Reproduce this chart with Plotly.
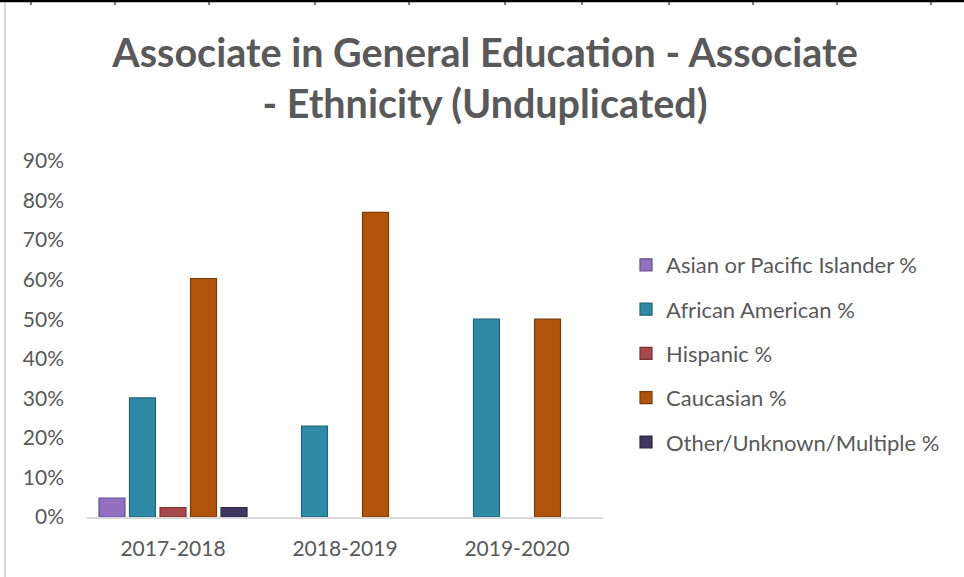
import plotly.graph_objects as go

# Academic years on the category axis
years = ["2017-2018", "2018-2019", "2019-2020"]

# Share of awards by ethnicity (fractions of 1); None = no bar drawn
asian = [0.048, None, None]
african_american = [0.301, 0.230, 0.500]
hispanic = [0.024, None, None]
caucasian = [0.603, 0.770, 0.500]
other = [0.024, None, None]

series_names = [
    "Asian or Pacific Islander %",
    "African American %",
    "Hispanic %",
    "Caucasian %",
    "Other/Unknown/Multiple %",
]
series_values = [asian, african_american, hispanic, caucasian, other]
fill_colors = ["#9371c2", "#2f8aa5", "#a9484a", "#b0540c", "#3f3760"]
edge_colors = ["#6a4f90", "#1f6378", "#7a2f31", "#7b3a07", "#2a2442"]

y_ticks = [i / 10 for i in range(10)]
y_tick_text = [f"{i * 10}%" for i in range(10)]

W, H = 964, 577
M_L, M_R, M_T, M_B = 87, 361, 161, 60
PLOT_W = W - M_L - M_R
PLOT_H = H - M_T - M_B

TEXT = "#595959"
FONT = "Lato, 'Open Sans', sans-serif"

fig = go.Figure()
for name, vals, fc, ec in zip(series_names, series_values, fill_colors, edge_colors):
    fig.add_trace(
        go.Bar(
            x=years,
            y=vals,
            name=name,
            legendgroup=name,
            marker=dict(color=fc, line=dict(color=ec, width=1.2)),
            hoverinfo="skip",
        )
    )


def px_x(px):
    return (px - M_L) / PLOT_W


def px_y(py):
    return (H - M_B - py) / PLOT_H


shapes = []
# heavy rule along the top edge with short cell dividers
shapes.append(dict(type="line", xref="paper", yref="paper",
                   x0=px_x(0), x1=px_x(W), y0=px_y(1), y1=px_y(1),
                   line=dict(color="#000000", width=2.5)))
for tx in [31, 115, 209, 315, 409, 505, 582, 669, 753, 837, 931]:
    shapes.append(dict(type="line", xref="paper", yref="paper",
                       x0=px_x(tx), x1=px_x(tx), y0=px_y(0), y1=px_y(5),
                       line=dict(color="#000000", width=1)))
# light frame line on the left
shapes.append(dict(type="line", xref="paper", yref="paper",
                   x0=px_x(5), x1=px_x(5), y0=px_y(3), y1=px_y(H),
                   line=dict(color="#d9d9d9", width=2)))

fig.update_layout(
    width=W,
    height=H,
    margin=dict(l=M_L, r=M_R, t=M_T, b=M_B, autoexpand=False),
    paper_bgcolor="white",
    plot_bgcolor="white",
    font=dict(family=FONT, color=TEXT, size=21),
    title=dict(
        text="<b>Associate in General Education - Associate<br>- Ethnicity (Unduplicated)</b>",
        x=485 / W,
        xanchor="center",
        y=1 - 66.5 / H,
        yanchor="middle",
        font=dict(family=FONT, size=39.5, color=TEXT),
    ),
    barmode="group",
    bargap=0.113,
    bargroupgap=0.15,
    xaxis=dict(
        showgrid=False,
        showline=True,
        linecolor="#d9d9d9",
        linewidth=2,
        ticks="",
        tickfont=dict(size=21, color=TEXT),
        ticklabelstandoff=12,
    ),
    yaxis=dict(
        range=[0, 0.9],
        tickvals=y_ticks,
        ticktext=y_tick_text,
        showgrid=False,
        zeroline=False,
        showline=False,
        ticks="",
        tickfont=dict(size=21, color=TEXT),
        ticklabelstandoff=22,
    ),
    legend=dict(
        x=px_x(626),
        xanchor="left",
        y=px_y(244),
        yanchor="top",
        font=dict(size=22, color=TEXT),
        tracegroupgap=12.7,
        bgcolor="rgba(0,0,0,0)",
    ),
    shapes=shapes,
    showlegend=True,
)

fig.write_html("out.html")
